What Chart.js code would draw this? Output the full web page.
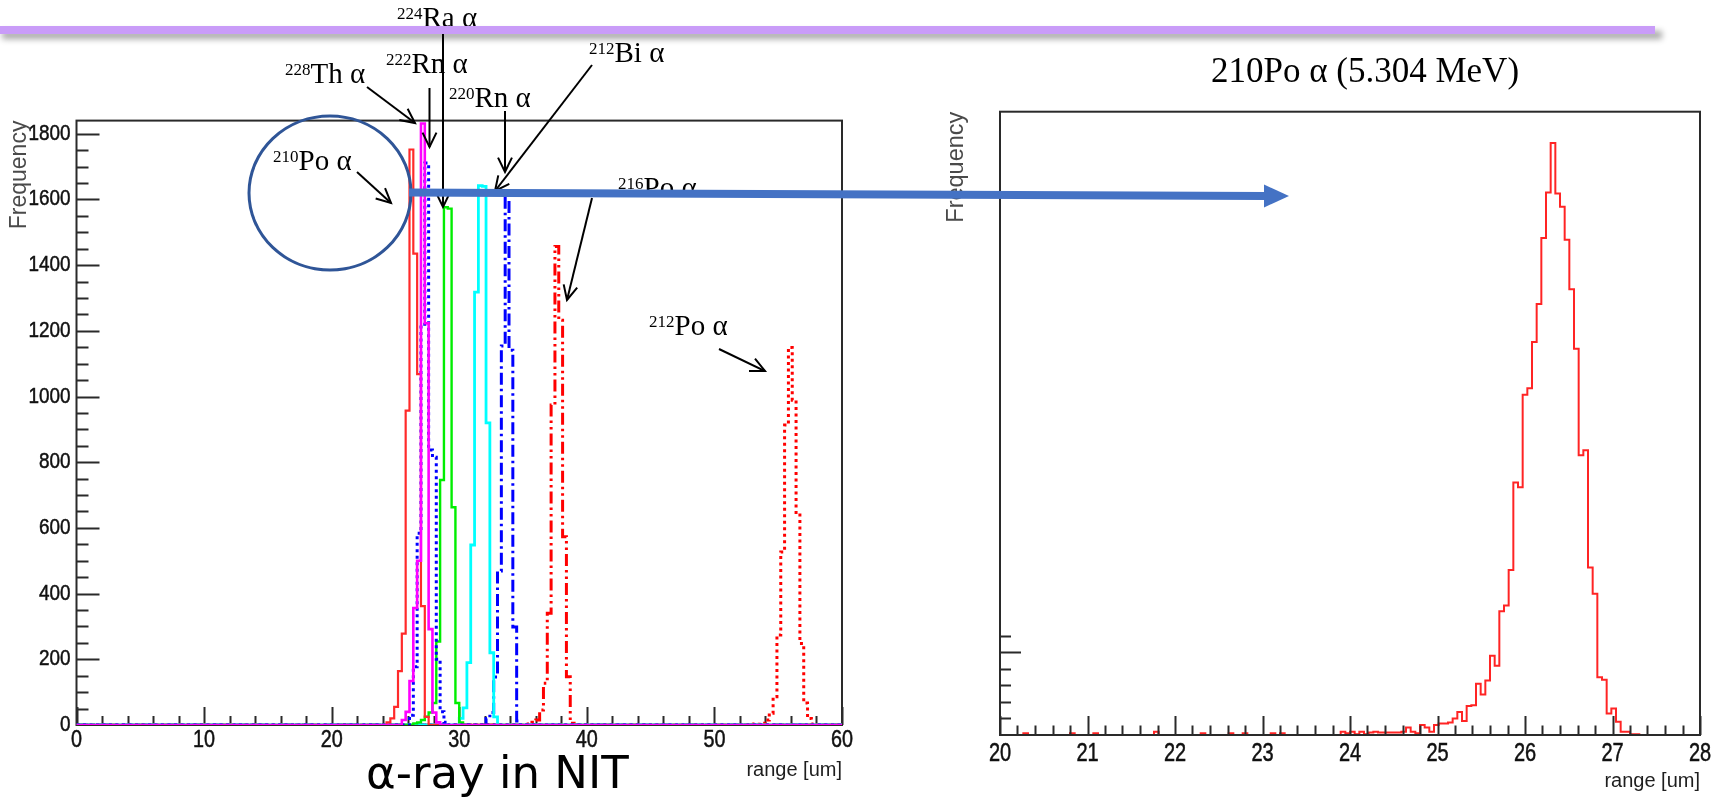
<!DOCTYPE html>
<html>
<head>
<meta charset="utf-8">
<title>Alpha-ray range in NIT</title>
<script src="https://cdn.jsdelivr.net/npm/chart.js@4.4.1/dist/chart.umd.min.js"></script>
<style>
  html, body { margin: 0; padding: 0; background: #fff; }
  #stage { position: relative; width: 1717px; height: 797px; overflow: hidden; background: #fff; }
  #left { position: absolute; left: 0; top: 0; }
  #right { position: absolute; left: 880px; top: 0; }
  #deco { position: absolute; left: 0; top: 0; }
</style>
</head>
<body>
<div id="stage">
  <canvas id="left" width="870" height="797"></canvas>
  <canvas id="right" width="837" height="797"></canvas>
  <svg id="deco" width="1717" height="797" xmlns="http://www.w3.org/2000/svg">
    <defs>
      <filter id="shade" x="-5%" y="-300%" width="110%" height="700%">
        <feGaussianBlur stdDeviation="3"/>
      </filter>
    </defs>
    <g id="labels" font-family="'Liberation Serif', 'DejaVu Serif', serif" fill="#000"></g>
    <!-- header rule with its drop shadow -->
    <rect x="2" y="31" width="1660" height="8" fill="#000" opacity="0.35" filter="url(#shade)"/>
    <rect x="0" y="26" width="1655" height="8" fill="#c99cf8"/>
    <g id="arrows" stroke="#000" stroke-width="2" fill="none"></g>
    <ellipse cx="330" cy="193" rx="81" ry="77" fill="none" stroke="#2f5597" stroke-width="3"/>
    <g id="bigArrow"></g>
    <text x="1211" y="82" font-family="'Liberation Serif', 'DejaVu Serif', serif" font-size="35" fill="#000">210Po α (5.304 MeV)</text>
    <text x="366" y="788" font-family="'DejaVu Sans', 'Liberation Sans', sans-serif" font-size="45" fill="#000">α-ray in NIT</text>
  </svg>
</div>
<script>
// ---------------------------------------------------------------
// Left panel: range of each alpha line, 0.3 um bins.
// Each list holds the bin contents starting at the given bin edge.
// ---------------------------------------------------------------
const RANGE_MIN = 0;
const RANGE_MAX = 60;
const RANGE_BIN = 0.3;

const th228Start = 25.5;
const th228Counts = [15, 40, 134, 356, 500, 1831, 1223, 292, 38, 8];

const po210Start = 24.3;
const po210Counts = [8, 20, 55, 164, 278, 957, 1752, 1435, 1068, 362, 25];

const rn222Start = 26.1;
const rn222Counts = [30, 177, 584, 1220, 1711, 837, 815, 200, 40, 8];

const ra224Start = 26.4;
const ra224Counts = [5, 8, 15, 25, 38, 67, 254, 746, 1576, 1572, 663, 67, 8];

const bi212Start = 30.0;
const bi212Counts = [20, 52, 190, 548, 1318, 1642, 1640, 920, 220, 25];

const rn220Start = 32.1;
const rn220Counts = [20, 38, 146, 469, 1154, 1612, 1141, 298, 12];

const po216Start = 35.4;
const po216Counts = [3, 8, 15, 46, 127, 340, 974, 1457, 1232, 573, 147, 5];

const po212Start = 52.8;
const po212Counts = [2, 3, 2, 5, 15, 36, 86, 274, 527, 913, 1149, 989, 639, 248, 67, 20, 3];

const LEFT_Y_MAX = 1840;
const leftXTicks = [0, 10, 20, 30, 40, 50, 60];
const leftYTicks = [0, 200, 400, 600, 800, 1000, 1200, 1400, 1600, 1800];

// ---------------------------------------------------------------
// Right panel: 210Po alpha range, 20-28 um in 150 bins
// ---------------------------------------------------------------
const ZOOM_MIN = 20;
const ZOOM_MAX = 28;
const ZOOM_BINS = 150;
const ZOOM_Y_MAX = 755;
const po210FineCounts = [
  0, 0, 0, 0, 0, 2, 0, 0, 0, 0,
  0, 0, 0, 0, 0, 2, 0, 0, 0, 0,
  2, 0, 0, 0, 0, 0, 0, 0, 0, 0,
  0, 0, 0, 4, 0, 0, 0, 0, 0, 0,
  0, 0, 0, 2, 0, 0, 0, 0, 0, 2,
  0, 0, 2, 0, 0, 0, 0, 0, 2, 0,
  2, 0, 0, 0, 0, 0, 0, 0, 0, 0,
  0, 0, 0, 4, 2, 4, 1, 4, 1, 3,
  4, 3, 3, 3, 3, 3, 4, 9, 4, 2,
  12, 9, 4, 12, 14, 14, 15, 20, 28, 17,
  35, 36, 62, 49, 66, 96, 84, 150, 157, 200,
  306, 300, 412, 420, 476, 522, 602, 657, 717, 656,
  640, 600, 540, 468, 339, 345, 203, 171, 70, 67,
  26, 32, 16, 4, 4, 1, 1, 0, 0, 0,
  0, 0, 0, 0, 0, 0, 0, 0, 0, 0
];
const zoomXTicks = [20, 21, 22, 23, 24, 25, 26, 27, 28];

// ---------------------------------------------------------------
// helpers
// ---------------------------------------------------------------
const FONT_SANS = '"Liberation Sans", Arial, Helvetica, sans-serif';

// Outline of a histogram: flat line on zero, then one flat step per bin.
function histPoints(start, width, counts, lo, hi) {
  const pts = [{x: lo, y: 0}, {x: start, y: 0}];
  counts.forEach((c, i) => {
    const a = start + i * width;
    pts.push({x: a, y: c}, {x: a + width, y: c});
  });
  pts.push({x: start + counts.length * width, y: 0}, {x: hi, y: 0});
  return pts;
}

// ROOT-like frame: box, inward ticks (major / minor) on the bottom and left
// axes, and the tick numbers set in a narrow (horizontally squeezed) face.
const rootFrame = {
  id: 'rootFrame',
  paint(chart, o) {
    const {ctx, chartArea: a, scales: {x, y}} = chart;
    ctx.save();
    ctx.strokeStyle = o.color;
    ctx.lineWidth = o.lineWidth;
    ctx.lineCap = 'butt';
    ctx.beginPath();
    const nx = Math.round((x.max - x.min) / o.xMinor);
    for (let i = 0; i <= nx; i++) {
      const v = x.min + i * o.xMinor;
      const major = Math.abs(v / o.xMajor - Math.round(v / o.xMajor)) < 1e-6;
      const px = Math.round(x.getPixelForValue(v)) + 0.5;
      ctx.moveTo(px, a.bottom);
      ctx.lineTo(px, a.bottom - (major ? o.xMajorLen : o.xMinorLen));
    }
    const top = Math.min(y.max, o.yShownMax);
    const ny = Math.floor((top - y.min) / o.yMinor + 1e-6);
    for (let i = 1; i <= ny; i++) {
      const v = y.min + i * o.yMinor;
      const major = Math.abs(v / o.yMajor - Math.round(v / o.yMajor)) < 1e-6;
      const py = Math.round(y.getPixelForValue(v)) + 0.5;
      ctx.moveTo(a.left, py);
      ctx.lineTo(a.left + (major ? o.yMajorLen : o.yMinorLen), py);
    }
    ctx.stroke();
    ctx.strokeRect(a.left, a.top, a.right - a.left, a.bottom - a.top);
    ctx.restore();
  },
  text(ctx, str, px, py, o) {
    ctx.save();
    ctx.translate(px, py);
    ctx.scale(o.squeeze, 1);
    ctx.fillText(str, 0, 0);
    ctx.strokeText(str, 0, 0);
    ctx.restore();
  },
  numbers(chart, o) {
    const {ctx, chartArea: a, scales: {x, y}} = chart;
    ctx.save();
    ctx.fillStyle = o.labelColor;
    ctx.strokeStyle = o.labelColor;
    ctx.lineWidth = 0.5;
    ctx.textBaseline = 'middle';
    ctx.font = `${o.xLabelSize}px ${FONT_SANS}`;
    ctx.textAlign = 'center';
    x.ticks.forEach(t => this.text(ctx, String(t.value), x.getPixelForValue(t.value), a.bottom + o.xLabelOffset, o));
    if (o.yLabels) {
      ctx.font = `${o.yLabelSize}px ${FONT_SANS}`;
      ctx.textAlign = 'right';
      y.ticks.forEach(t => this.text(ctx, String(t.value), a.left - o.yLabelGap, y.getPixelForValue(t.value), o));
    }
    ctx.restore();
  },
  beforeDatasetsDraw(chart, args, o) { if (o.layer === 'under') this.paint(chart, o); },
  afterDatasetsDraw(chart, args, o) {
    if (o.layer === 'over') this.paint(chart, o);
    this.numbers(chart, o);
  }
};

function keepTicks(list) {
  return (scale) => { scale.ticks = list.map(v => ({value: v})); };
}

const baseOptions = {
  responsive: false,
  devicePixelRatio: 1,
  animation: false,
  events: [],
  plugins: { legend: { display: false }, tooltip: { enabled: false } },
  elements: { point: { radius: 0 }, line: { tension: 0, borderCapStyle: 'butt', borderJoinStyle: 'miter' } }
};

// ---------------------------------------------------------------
// left panel
// ---------------------------------------------------------------
const leftSeries = [
  { label: '228Th α', start: th228Start, counts: th228Counts, color: '#ff00ff', width: 2.6, dash: [] },
  { label: '210Po α', start: po210Start, counts: po210Counts, color: '#ff2a2a', width: 2.2, dash: [] },
  { label: '222Rn α', start: rn222Start, counts: rn222Counts, color: '#0000ff', width: 3, dash: [3, 3.5] },
  { label: '224Ra α', start: ra224Start, counts: ra224Counts, color: '#00ee00', width: 2.4, dash: [] },
  { label: '212Bi α', start: bi212Start, counts: bi212Counts, color: '#00ffff', width: 2.8, dash: [] },
  { label: '220Rn α', start: rn220Start, counts: rn220Counts, color: '#0000ff', width: 3, dash: [12, 4, 2.5, 4] },
  { label: '216Po α', start: po216Start, counts: po216Counts, color: '#ff0000', width: 3, dash: [12, 4, 2.5, 4, 2.5, 4] },
  { label: '212Po α', start: po212Start, counts: po212Counts, color: '#ff0000', width: 3, dash: [3, 3.5] }
];

new Chart(document.getElementById('left'), {
  type: 'line',
  data: {
    datasets: leftSeries.map(s => ({
      label: s.label,
      data: histPoints(s.start, RANGE_BIN, s.counts, RANGE_MIN, RANGE_MAX),
      borderColor: s.color,
      borderWidth: s.width,
      borderDash: s.dash,
      fill: false
    }))
  },
  options: Object.assign({}, baseOptions, {
    layout: { padding: { top: 120.6, right: 28, bottom: 0, left: 0 } },
    scales: {
      x: {
        type: 'linear', min: RANGE_MIN, max: RANGE_MAX,
        afterBuildTicks: keepTicks(leftXTicks),
        afterFit: s => { s.height = 72; },
        grid: { display: false }, border: { display: false },
        ticks: { display: false },
        title: { display: true, text: 'range [um]', align: 'end', color: '#1e1e1e',
                 font: { family: FONT_SANS, size: 20 }, padding: { top: 0, bottom: 15 } }
      },
      y: {
        type: 'linear', min: 0, max: LEFT_Y_MAX,
        afterBuildTicks: keepTicks(leftYTicks),
        afterFit: s => { s.width = 76.5; },
        grid: { display: false }, border: { display: false },
        ticks: { display: false },
        title: { display: true, text: 'Frequency', align: 'end', color: '#4a4a4a',
                 font: { family: FONT_SANS, size: 23 }, padding: { top: 6, bottom: 0 } }
      }
    },
    plugins: Object.assign({}, baseOptions.plugins, {
      rootFrame: { layer: 'under', color: '#2a2a2a', lineWidth: 2,
        xMajor: 10, xMinor: 2, xMajorLen: 18, xMinorLen: 9,
        yMajor: 200, yMinor: 50, yMajorLen: 23, yMinorLen: 12, yShownMax: 1e9,
        labelColor: '#111', squeeze: 0.86, xLabelSize: 23, xLabelOffset: 16,
        yLabels: true, yLabelSize: 22, yLabelGap: 6 }
    })
  }),
  plugins: [rootFrame]
});

// ---------------------------------------------------------------
// right panel
// ---------------------------------------------------------------
const zoomWidth = (ZOOM_MAX - ZOOM_MIN) / ZOOM_BINS;

new Chart(document.getElementById('right'), {
  type: 'line',
  data: {
    datasets: [{
      label: '210Po α (5.304 MeV)',
      data: histPoints(ZOOM_MIN, zoomWidth, po210FineCounts, ZOOM_MIN, ZOOM_MAX),
      borderColor: '#ff2424',
      borderWidth: 2,
      fill: false
    }]
  },
  options: Object.assign({}, baseOptions, {
    layout: { padding: { top: 111.7, right: 17, bottom: 0, left: 0 } },
    scales: {
      x: {
        type: 'linear', min: ZOOM_MIN, max: ZOOM_MAX,
        afterBuildTicks: keepTicks(zoomXTicks),
        afterFit: s => { s.height = 62; },
        grid: { display: false }, border: { display: false },
        ticks: { display: false },
        title: { display: true, text: 'range [um]', align: 'end', color: '#1e1e1e',
                 font: { family: FONT_SANS, size: 20 }, padding: { top: 0, bottom: 4 } }
      },
      y: {
        type: 'linear', min: 0, max: ZOOM_Y_MAX,
        afterFit: s => { s.width = 120; },
        grid: { display: false }, border: { display: false },
        ticks: { display: false },
        title: { display: true, text: 'Frequency', align: 'end', color: '#4a4a4a',
                 font: { family: FONT_SANS, size: 23.5 }, padding: { top: 62, bottom: 0 } }
      }
    },
    plugins: Object.assign({}, baseOptions.plugins, {
      rootFrame: { layer: 'over', color: '#2a2a2a', lineWidth: 2,
        xMajor: 1, xMinor: 0.2, xMajorLen: 19, xMinorLen: 9.5,
        yMajor: 100, yMinor: 20, yMajorLen: 21, yMinorLen: 11, yShownMax: 120,
        labelColor: '#111', squeeze: 0.8, xLabelSize: 25, xLabelOffset: 19,
        yLabels: false, yLabelSize: 22, yLabelGap: 7 }
    })
  }),
  plugins: [rootFrame]
});

// ---------------------------------------------------------------
// slide annotations: isotope labels, pointer arrows, link arrow
// ---------------------------------------------------------------
const SVG_NS = 'http://www.w3.org/2000/svg';
const isotopeLabels = [
  { mass: '228', name: 'Th α', x: 285, y: 83 },
  { mass: '222', name: 'Rn α', x: 386, y: 73 },
  { mass: '224', name: 'Ra α', x: 397, y: 27 },
  { mass: '220', name: 'Rn α', x: 449, y: 107 },
  { mass: '212', name: 'Bi α', x: 589, y: 62 },
  { mass: '210', name: 'Po α', x: 273, y: 170 },
  { mass: '216', name: 'Po α', x: 618, y: 197 },
  { mass: '212', name: 'Po α', x: 649, y: 335 }
];
const pointers = [
  [367, 87, 415, 123],
  [429.5, 88, 429.5, 147],
  [443, 34, 443, 207],
  [505, 111, 505, 172],
  [592, 65, 495, 191],
  [357, 172, 391, 203],
  [592, 198, 567, 300],
  [719, 349, 765, 371]
];

const labelLayer = document.getElementById('labels');
isotopeLabels.forEach(l => {
  const t = document.createElementNS(SVG_NS, 'text');
  t.setAttribute('x', l.x);
  t.setAttribute('y', l.y);
  t.setAttribute('font-size', '29');
  const sup = document.createElementNS(SVG_NS, 'tspan');
  sup.setAttribute('font-size', '17');
  sup.setAttribute('dy', '-8');
  sup.textContent = l.mass;
  const main = document.createElementNS(SVG_NS, 'tspan');
  main.setAttribute('dy', '8');
  main.textContent = l.name;
  t.appendChild(sup);
  t.appendChild(main);
  labelLayer.appendChild(t);
});

const arrowLayer = document.getElementById('arrows');
pointers.forEach(([x1, y1, x2, y2]) => {
  const ang = Math.atan2(y2 - y1, x2 - x1);
  const L = 16, spread = 0.45;
  const line = document.createElementNS(SVG_NS, 'line');
  line.setAttribute('x1', x1); line.setAttribute('y1', y1);
  line.setAttribute('x2', x2); line.setAttribute('y2', y2);
  arrowLayer.appendChild(line);
  const head = document.createElementNS(SVG_NS, 'polyline');
  const p1 = [x2 - L * Math.cos(ang - spread), y2 - L * Math.sin(ang - spread)];
  const p2 = [x2 - L * Math.cos(ang + spread), y2 - L * Math.sin(ang + spread)];
  head.setAttribute('points', `${p1[0]},${p1[1]} ${x2},${y2} ${p2[0]},${p2[1]}`);
  arrowLayer.appendChild(head);
});

// thick link arrow from the 210Po peak to the detailed panel
const big = document.getElementById('bigArrow');
const shaft = document.createElementNS(SVG_NS, 'line');
shaft.setAttribute('x1', 409); shaft.setAttribute('y1', 192.5);
shaft.setAttribute('x2', 1266); shaft.setAttribute('y2', 196);
shaft.setAttribute('stroke', '#4472c4'); shaft.setAttribute('stroke-width', 8);
big.appendChild(shaft);
const tip = document.createElementNS(SVG_NS, 'polygon');
tip.setAttribute('points', '1264,184.5 1289,196 1264,207.5');
tip.setAttribute('fill', '#4472c4');
big.appendChild(tip);
</script>
</body>
</html>
